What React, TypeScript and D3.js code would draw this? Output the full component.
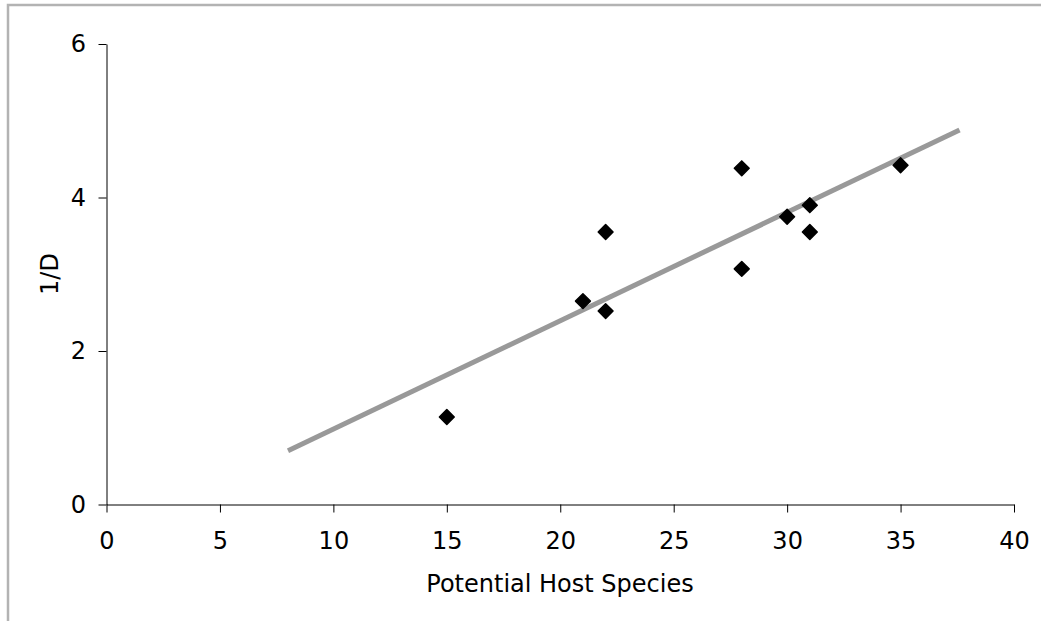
import React, { useEffect, useRef } from 'react'
import * as d3 from 'd3'

// host species counts and inverse Simpson values
const hostSpecies = [15, 21, 22, 22, 28, 28, 30, 31, 31, 35]
const inverseD = [1.14, 2.65, 3.55, 2.52, 4.38, 3.07, 3.75, 3.9, 3.55, 4.42]
// linear trendline end points
const trendX = [8, 37.6]
const trendY = [0.7, 4.88]
const xTicks = [0, 5, 10, 15, 20, 25, 30, 35, 40]
const yTicks = [0, 2, 4, 6]

const W = 1041
const H = 621

function App() {
    const ref = useRef<SVGSVGElement>(null)

    useEffect(() => {
        const svg = d3.select(ref.current)
        svg.selectAll('*').remove()

        const x = d3.scaleLinear().domain([0, 40]).range([106.5, 1014])
        const y = d3.scaleLinear().domain([0, 6]).range([504.5, 44])
        const font = 'Verdana, "DejaVu Sans", sans-serif'

        // outer frame (top and left edges only)
        svg.append('path')
            .attr('d', `M8,${H} L8,5 L${W},5`)
            .attr('fill', 'none')
            .attr('stroke', '#b3b3b3')
            .attr('stroke-width', 2.5)

        const xAxis = svg.append('g')
            .attr('transform', `translate(0,${y(0)})`)
            .call(d3.axisBottom(x).tickValues(xTicks).tickFormat(d3.format('d')).tickSize(8).tickPadding(19).tickSizeOuter(0))
        const yAxis = svg.append('g')
            .attr('transform', `translate(${x(0)},0)`)
            .call(d3.axisLeft(y).tickValues(yTicks).tickFormat(d3.format('d')).tickSize(8).tickPadding(12.5).tickSizeOuter(0))

        ;[xAxis, yAxis].forEach(a => {
            a.attr('font-family', font).attr('font-size', 24)
            a.selectAll('text').style('font-size', '24px').attr('fill', '#000')
            a.selectAll('line').attr('stroke', '#000')
            a.select('.domain').attr('stroke', '#000')
        })

        svg.append('text')
            .attr('x', 560)
            .attr('y', 592)
            .attr('text-anchor', 'middle')
            .attr('font-family', font)
            .style('font-size', '24px')
            .text('Potential Host Species')

        svg.append('text')
            .attr('transform', `translate(58,${274}) rotate(-90)`)
            .attr('text-anchor', 'middle')
            .attr('font-family', font)
            .style('font-size', '24px')
            .text('1/D')

        const line = d3.line<number>()
            .x(d => x(trendX[d]))
            .y(d => y(trendY[d]))
        svg.append('path')
            .datum([0, 1])
            .attr('d', line)
            .attr('fill', 'none')
            .attr('stroke', '#999999')
            .attr('stroke-width', 5)

        const diamond = d3.symbol().type(d3.symbolSquare).size(110)
        svg.append('g')
            .selectAll('path')
            .data(hostSpecies)
            .join('path')
            .attr('d', diamond)
            .attr('transform', (d, i) => `translate(${x(d)},${y(inverseD[i])}) rotate(45)`)
            .attr('fill', '#000')
            .attr('stroke', '#000')
            .attr('stroke-width', 1.5)
            .attr('stroke-linejoin', 'round')
    }, [])

    return (
        <svg ref={ref} width={W} height={H}
            style={{ position: 'absolute', left: 0, top: 0, background: '#fff' }} />
    )
}

export default App
